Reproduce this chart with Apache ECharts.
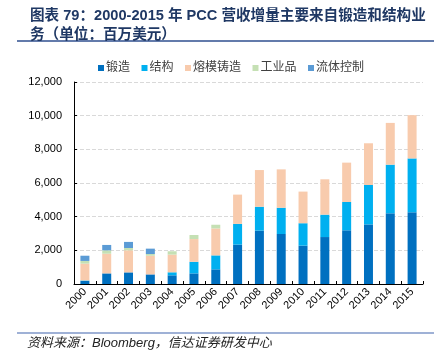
<!DOCTYPE html>
<html>
<head>
<meta charset="utf-8">
<script src="https://cdn.jsdelivr.net/npm/echarts@6/dist/echarts.min.js"></script>
<style>
  html, body { margin: 0; padding: 0; background: #fff; }
  #chart { width: 445px; height: 354px; }
</style>
</head>
<body>
<div id="chart"></div>
<script>
const chart = echarts.init(document.getElementById("chart"));

const years = ["2000", "2001", "2002", "2003", "2004", "2005", "2006", "2007",
	"2008", "2009", "2010", "2011", "2012", "2013", "2014", "2015"];
const forging = [180, 630, 690, 570, 515, 630, 870, 2340, 3170, 2970, 2280, 2790, 3190, 3540, 4200, 4260];
const structures = [30, 0, 0, 0, 180, 690, 830, 1230, 1420, 1560, 1330, 1330, 1680, 2340, 2890, 3200];
const casting = [1000, 1170, 1310, 1110, 1050, 1350, 1600, 1740, 2180, 2280, 1880, 2100, 2340, 2480, 2480, 2570];
const industrial = [160, 200, 140, 100, 200, 240, 220, 0, 0, 0, 0, 0, 0, 0, 0, 0];
const fluid = [310, 320, 360, 320, 0, 0, 0, 0, 0, 0, 0, 0, 0, 0, 0, 0];

const names = ["锻造", "结构", "熔模铸造", "工业品", "流体控制"];
const colors = ["#0070C0", "#00B0F0", "#F8CBAD", "#C5E0B4", "#5B9BD5"];
const values = [forging, structures, casting, industrial, fluid];

const FONT = "'Liberation Sans', Arial, 'Noto Sans CJK SC', sans-serif";

option = {
	animation: false,
	textStyle: { fontFamily: FONT },
	title: {
		text: "图表 79：2000-2015 年 PCC 营收增量主要来自锻造和结构业\n务（单位：百万美元）",
		left: 25,
		top: 1,
		textStyle: {
			fontSize: 14.6,
			fontWeight: "bold",
			color: "#1F3864",
			lineHeight: 19,
			fontFamily: FONT
		}
	},
	graphic: [
		{
			type: "line",
			shape: { x1: 17, y1: 41, x2: 434, y2: 41 },
			style: { stroke: "#2F4F8F", lineWidth: 1.5 }
		},
		{
			type: "line",
			shape: { x1: 17, y1: 333, x2: 434, y2: 333 },
			style: { stroke: "#7F97C8", lineWidth: 1.5 }
		},
		{
			type: "text",
			left: 27,
			top: 337,
			style: {
				text: "资料来源：Bloomberg，信达证券研发中心",
				font: "italic 13px " + FONT,
				fill: "#222"
			}
		}
	],
	legend: {
		top: 57,
		left: 93,
		itemWidth: 6,
		itemHeight: 6,
		itemGap: 11.5,
		icon: "rect",
		textStyle: { fontSize: 12, color: "#404040", padding: [0, 0, 0, -3] },
		data: names
	},
	grid: {
		left: 74,
		right: 22,
		top: 82,
		bottom: 70
	},
	xAxis: {
		type: "category",
		data: years,
		axisLine: { lineStyle: { color: "#000", width: 1 } },
		axisTick: { show: true, inside: true, length: 3, lineStyle: { color: "#000" } },
		axisLabel: { rotate: 45, fontSize: 11, color: "#000", margin: 6 }
	},
	yAxis: {
		type: "value",
		min: 0,
		max: 12000,
		interval: 2000,
		axisLine: { show: true, lineStyle: { color: "#000", width: 1 } },
		axisTick: { show: true, inside: true, length: 3, lineStyle: { color: "#000" } },
		axisLabel: {
			fontSize: 11,
			color: "#000",
			margin: 12,
			formatter: (v) => v.toLocaleString("en-US")
		},
		splitLine: { lineStyle: { color: "#D9D9D9", type: "dashed" } }
	},
	series: names.map((n, i) => ({
		name: n,
		type: "bar",
		stack: "total",
		barWidth: 9,
		itemStyle: { color: colors[i] },
		data: values[i]
	}))
};

chart.setOption(option);
window.onresize = chart.resize;
</script>
</body>
</html>
